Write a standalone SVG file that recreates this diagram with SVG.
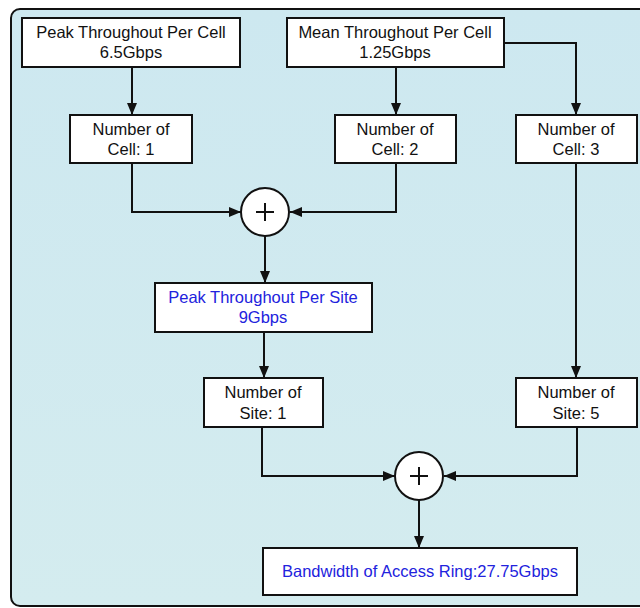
<svg xmlns="http://www.w3.org/2000/svg" width="640" height="608" viewBox="0 0 640 608">
<style>
.box{fill:#fff;stroke:#111;stroke-width:2}
.t{font-family:"Liberation Sans",Arial,sans-serif;font-size:16.5px;fill:#111;text-anchor:middle}
.b{fill:#2222dd}
.c{fill:none;stroke:#111;stroke-width:2}
.op{fill:#fff;stroke:#111;stroke-width:2}
</style>
<defs>
<marker id="ah" markerWidth="12" markerHeight="12" viewBox="0 0 12 12" refX="12" refY="6" orient="auto" markerUnits="userSpaceOnUse">
<path d="M0,1 L12,6 L0,11 Z" fill="#111"/>
</marker>
<linearGradient id="bg" x1="0" y1="0" x2="0" y2="1">
<stop offset="0" stop-color="#cde8f0"/>
<stop offset="1" stop-color="#d4ecef"/>
</linearGradient>
</defs>
<rect width="640" height="608" fill="#fff"/>
<rect x="11" y="9" width="650" height="597" rx="9" fill="url(#bg)" stroke="#111" stroke-width="2"/>
<g id="connectors">
<path class="c" d="M132,67 V115" marker-end="url(#ah)"/>
<path class="c" d="M396,67 V115" marker-end="url(#ah)"/>
<path class="c" d="M504,43 H576 V115" marker-end="url(#ah)"/>
<path class="c" d="M132,163 V212 H241" marker-end="url(#ah)"/>
<path class="c" d="M396,163 V212 H290" marker-end="url(#ah)"/>
<path class="c" d="M265,236 V283" marker-end="url(#ah)"/>
<path class="c" d="M264,332 V378" marker-end="url(#ah)"/>
<path class="c" d="M576,163 V378" marker-end="url(#ah)"/>
<path class="c" d="M262,427 V476 H395" marker-end="url(#ah)"/>
<path class="c" d="M577,427 V476 H444" marker-end="url(#ah)"/>
<path class="c" d="M419,500 V548" marker-end="url(#ah)"/>
</g>
<g id="peak-cell">
<rect class="box" x="22" y="18" width="218" height="49"/>
<text class="t" x="131" y="38">Peak Throughout Per Cell</text>
<text class="t" x="131" y="58">6.5Gbps</text>
</g>
<g id="mean-cell">
<rect class="box" x="287" y="18" width="217" height="49"/>
<text class="t" x="395" y="38">Mean Throughout Per Cell</text>
<text class="t" x="395" y="58">1.25Gbps</text>
</g>
<g id="cell1">
<rect class="box" x="70" y="115" width="122" height="48"/>
<text class="t" x="131" y="135">Number of</text>
<text class="t" x="131" y="155">Cell: 1</text>
</g>
<g id="cell2">
<rect class="box" x="335" y="115" width="121" height="48"/>
<text class="t" x="395" y="135">Number of</text>
<text class="t" x="395" y="155">Cell: 2</text>
</g>
<g id="cell3">
<rect class="box" x="516" y="115" width="121" height="48"/>
<text class="t" x="576" y="135">Number of</text>
<text class="t" x="576" y="155">Cell: 3</text>
</g>
<g id="sum1">
<circle class="op" cx="265" cy="212" r="24"/>
<path class="c" d="M256,212 H274 M265,203 V221" stroke-width="1.6"/>
</g>
<g id="peak-site">
<rect class="box" x="155" y="283" width="217" height="49"/>
<text class="t b" x="263" y="303">Peak Throughout Per Site</text>
<text class="t b" x="263" y="323">9Gbps</text>
</g>
<g id="site1">
<rect class="box" x="204" y="378" width="119" height="49"/>
<text class="t" x="263" y="398">Number of</text>
<text class="t" x="263" y="419">Site: 1</text>
</g>
<g id="site5">
<rect class="box" x="516" y="378" width="121" height="49"/>
<text class="t" x="576" y="398">Number of</text>
<text class="t" x="576" y="419">Site: 5</text>
</g>
<g id="sum2">
<circle class="op" cx="419" cy="476" r="24"/>
<path class="c" d="M410,476 H428 M419,467 V485" stroke-width="1.6"/>
</g>
<g id="bandwidth">
<rect class="box" x="263" y="548" width="314" height="47"/>
<text class="t b" x="420" y="577">Bandwidth of Access Ring:27.75Gbps</text>
</g>
</svg>
